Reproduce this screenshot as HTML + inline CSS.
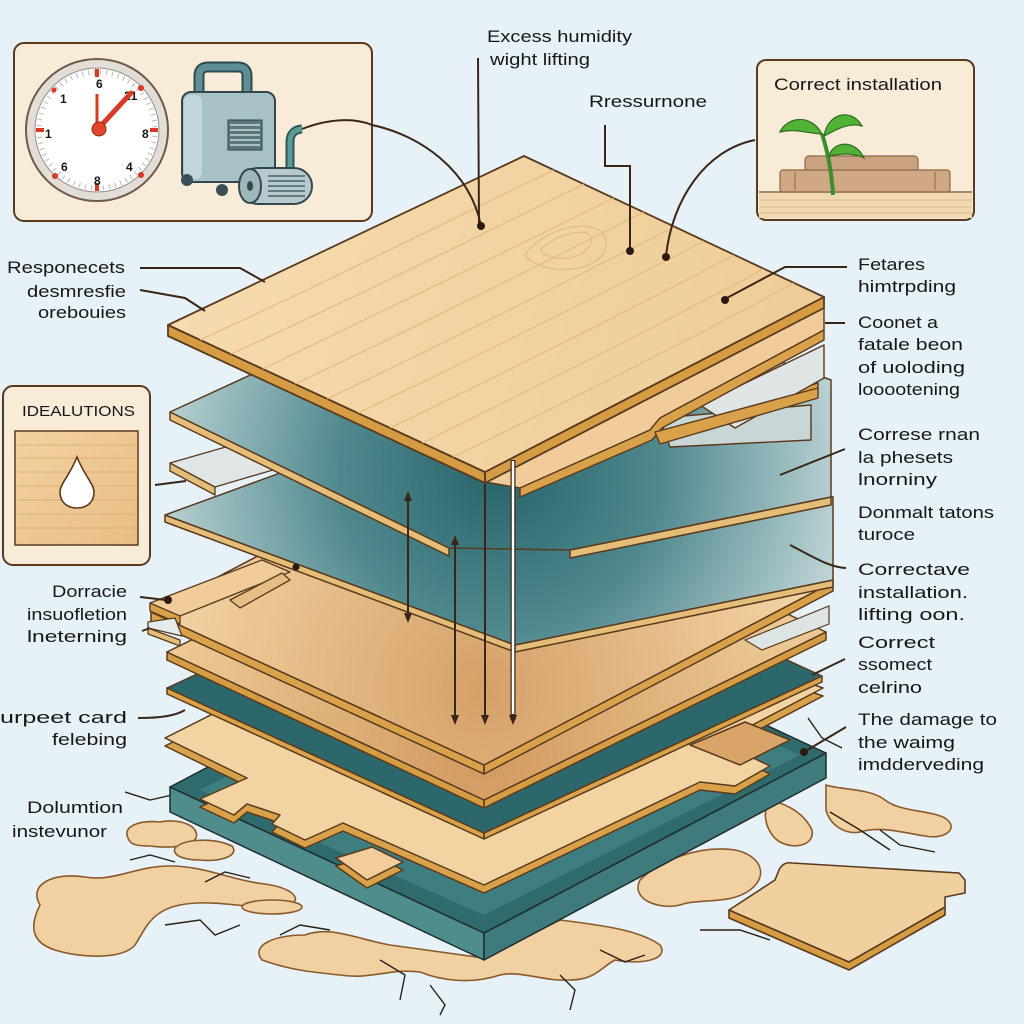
<!DOCTYPE html>
<html><head><meta charset="utf-8"><style>
html,body{margin:0;padding:0;background:#e6f2f7;}
svg{display:block;}
text{font-family:"Liberation Sans",Arial,sans-serif;fill:#171717;font-size:17px;}
</style></head><body>
<svg width="1024" height="1024" viewBox="0 0 1024 1024" xmlns="http://www.w3.org/2000/svg">
<defs>
 <radialGradient id="glass" gradientUnits="userSpaceOnUse" cx="500" cy="470" r="360">
  <stop offset="0" stop-color="#27646a"/>
  <stop offset="0.45" stop-color="#4f898e"/>
  <stop offset="1" stop-color="#c6d9db"/>
 </radialGradient>
 <linearGradient id="topwood" gradientUnits="userSpaceOnUse" x1="168" y1="200" x2="824" y2="420">
  <stop offset="0" stop-color="#f6dcb0"/>
  <stop offset="0.5" stop-color="#f2d4a2"/>
  <stop offset="1" stop-color="#eecb95"/>
 </linearGradient>
 <radialGradient id="wood2" gradientUnits="userSpaceOnUse" cx="484" cy="690" r="340">
  <stop offset="0" stop-color="#d6a068"/>
  <stop offset="1" stop-color="#f3d5a5"/>
 </radialGradient>
 <radialGradient id="wood3" gradientUnits="userSpaceOnUse" cx="484" cy="760" r="330">
  <stop offset="0" stop-color="#d29a62"/>
  <stop offset="1" stop-color="#ecc994"/>
 </radialGradient>
 <linearGradient id="boxwood" x1="0" y1="0" x2="1" y2="1">
  <stop offset="0" stop-color="#f2d2a0"/>
  <stop offset="1" stop-color="#e8bd84"/>
 </linearGradient>
 <marker id="ah" markerWidth="10" markerHeight="10" refX="5" refY="5" orient="auto-start-reverse" markerUnits="userSpaceOnUse">
  <path d="M0,1 L10,5 L0,9 Z" fill="#3a2618"/>
 </marker>
</defs>

<rect width="1024" height="1024" fill="#e6f2f7"/>

<!-- ===== spills ===== -->
<g fill="#f1d1a2" stroke="#8b5a2b" stroke-width="1.6">
 <path d="M40,905 C28,885 52,872 85,877 C115,882 135,866 170,866 C205,866 230,880 265,884 C295,888 305,902 285,906 C255,911 215,898 180,905 C150,911 145,930 135,945 C122,960 80,958 55,950 C30,942 30,925 40,905 Z"/>
 <ellipse cx="272" cy="907" rx="30" ry="7"/>
 <path d="M128,838 C122,826 140,820 160,822 C180,818 200,826 196,838 C190,848 165,848 150,846 C138,846 130,845 128,838 Z"/>
 <path d="M175,848 C185,838 215,838 232,846 C240,856 220,862 200,860 C185,860 172,856 175,848 Z"/>
 <path d="M262,960 C250,945 275,935 305,935 C330,925 360,940 390,945 L484,958 L560,920 C600,925 640,930 660,945 C670,960 640,965 615,960 C600,968 595,980 570,980 C545,982 520,970 500,975 C470,985 440,980 420,972 C390,968 370,980 340,975 C310,972 290,970 262,960 Z"/>
 <path d="M640,880 C660,860 700,845 735,850 C760,855 770,875 750,890 C730,905 700,898 680,905 C660,910 630,900 640,880 Z"/>
 <path d="M826,785 C840,790 870,788 885,800 C900,812 930,810 945,818 C960,828 945,840 925,836 C900,832 880,826 860,832 C845,835 830,825 826,810 Z"/>
 <path d="M770,800 C790,805 805,815 812,830 C815,845 795,850 780,842 C768,835 760,815 770,800 Z"/>
</g>
<g fill="none" stroke="#2a2018" stroke-width="1.4">
 <polyline points="125,792 150,800 172,795"/>
 <polyline points="130,860 150,855 175,862"/>
 <polyline points="165,925 200,920 215,935 240,925"/>
 <polyline points="205,882 225,872 250,878"/>
 <polyline points="280,935 300,925 330,930"/>
 <polyline points="380,960 405,975 400,1000"/>
 <polyline points="430,985 445,1005 440,1015"/>
 <polyline points="600,950 625,962 645,955"/>
 <polyline points="700,930 740,930 770,940"/>
 <polyline points="755,905 800,912"/>
 <polyline points="830,812 860,830 890,850"/>
 <polyline points="808,718 822,738 842,748"/>
 <polyline points="880,830 900,845 935,852"/>
 <polyline points="560,975 575,990 570,1010"/>
</g>

<!-- ===== base slab ===== -->
<g stroke="#1f2d2d" stroke-width="1.5" stroke-linejoin="round">
 <polygon points="170,787 484,933 484,960 170,812" fill="#4f8d8c"/>
 <polygon points="484,933 826,753 826,778 484,960" fill="#3f7b7d"/>
 <polygon points="170,787 512,607 826,753 484,933" fill="#2f6b6d"/>
 <polygon points="200,790 512,630 800,755 484,915" fill="#3f7e80" stroke="none"/>
</g>

<!-- ===== jigsaw wood ===== -->
<g stroke="#5a3a1e" stroke-width="1.5" stroke-linejoin="round">
 <path transform="translate(0,8)" d="M165,738 L493,573 L823,688 L720,742 L770,766 L735,786 L700,782 L484,885 L343,823 L305,840 L272,824 L280,815 L247,804 L234,815 L200,799 L247,778 Z" fill="#d9a24a"/>
 <path d="M165,738 L493,573 L823,688 L720,742 L770,766 L735,786 L700,782 L484,885 L343,823 L305,840 L272,824 L280,815 L247,804 L234,815 L200,799 L247,778 Z" fill="#f2d3a2"/>
 <polygon points="690,745 745,722 790,740 740,765" fill="#d9a468"/>
 <polygon points="336,866 372,855 403,870 367,888" fill="#d9a24a"/>
 <polygon points="336,858 372,847 403,862 367,880" fill="#f0cd9b"/>
</g>

<!-- ===== teal dark layer ===== -->
<g stroke="#5a3a1e" stroke-width="1.5" stroke-linejoin="round">
 <polygon points="167,688 484,833 484,839 167,694" fill="#d9a24a"/>
 <polygon points="484,833 822,676 822,682 484,839" fill="#d9a24a"/>
 <polygon points="167,688 505,531 822,676 484,833" fill="#2c686b"/>
</g>

<!-- ===== brown wood layer ===== -->
<g stroke="#5a3a1e" stroke-width="1.5" stroke-linejoin="round">
 <polygon points="167,652 484,800 484,808 167,660" fill="#d69c44"/>
 <polygon points="484,800 826,632 826,640 484,808" fill="#d69c44"/>
 <polygon points="167,652 509,484 826,632 484,800" fill="url(#wood3)"/>
</g>
<polygon points="745,640 829,606 829,624 762,650" fill="#dde4e4" stroke="#5a3a1e" stroke-width="1.2"/>

<!-- ===== wood under glass ===== -->
<g stroke="#5a3a1e" stroke-width="1.5" stroke-linejoin="round">
 <polygon points="151,612 484,765 484,774 151,621" fill="#d9a24a"/>
 <polygon points="484,765 833,582 833,591 484,774" fill="#d9a24a"/>
 <polygon points="151,612 500,429 833,582 484,765" fill="url(#wood2)"/>
</g>

<!-- ===== glass 2 ===== -->
<g stroke="#5a3a1e" stroke-width="1.5" stroke-linejoin="round">
 <polygon points="165,515 515,645 515,652 165,522" fill="#e4bd78"/>
 <polygon points="515,645 833,580 833,587 515,652" fill="#e4bd78"/>
 <polygon points="165,515 480,400 833,497 833,580 515,645" fill="url(#glass)"/>
</g>

<!-- small grey strip left -->
<g stroke="#5a3a1e" stroke-width="1.3" stroke-linejoin="round">
 <polygon points="170,463 215,487 215,495 170,471" fill="#e3bd7a"/>
 <polygon points="170,463 250,440 300,462 215,487" fill="#e0e6e6"/>
</g>

<!-- raised wood piece left (over glass2) -->
<g stroke="#5a3a1e" stroke-width="1.3" stroke-linejoin="round">
 <polygon points="150,603 262,560 290,572 180,616 150,610" fill="#efcc98"/>
 <polygon points="150,603 180,616 180,624 150,611" fill="#d9a24a"/>
 <polygon points="230,600 282,573 290,580 240,608" fill="#e6bd85"/>
 <polygon points="148,628 180,640 180,646 148,634" fill="#e3bd7a"/>
 <polygon points="148,622 175,618 182,636 148,628" fill="#e6ebeb"/>
</g>

<!-- ===== glass 1 ===== -->
<g stroke="#5a3a1e" stroke-width="1.5" stroke-linejoin="round">
 <polygon points="170,412 449,548 449,556 170,420" fill="#e4bd78"/>
 <polygon points="570,550 831,497 831,505 570,558" fill="#e4bd78"/>
 <polygon points="170,412 500,260 831,380 831,497 570,550 449,548" fill="url(#glass)"/>
</g>

<!-- ===== right strips under top board ===== -->
<g stroke="#5a3a1e" stroke-width="1.4" stroke-linejoin="round">
 <polygon points="655,432 818,383 818,393 660,442" fill="#d9a24a"/>
 <polygon points="660,418 811,405 811,440 670,447" fill="#c9d6d6"/>
 <polygon points="700,405 824,345 824,378 735,428" fill="#dfe5e4"/>
 <polygon points="485,482 824,307 824,330 660,418 650,430 520,488" fill="#efcc99"/>
 <polygon points="520,488 650,430 660,418 824,330 824,340 662,428 652,440 520,497" fill="#d9a24a"/>
 <polygon points="655,432 818,388 818,398 660,444" fill="#d9a24a"/>
</g>

<!-- ===== top board ===== -->
<g stroke="#5a3a1e" stroke-width="1.8" stroke-linejoin="round">
 <polygon points="168,325 485,472 485,483 168,336" fill="#d69c44"/>
 <polygon points="485,472 824,297 824,308 485,483" fill="#d69c44"/>
 <polygon points="168,325 524,156 824,297 485,472" fill="url(#topwood)"/>
</g>
<g fill="none" stroke="#e2b983" stroke-width="1.5" opacity="0.8">
 <path d="M200,340 C320,285 440,225 554,170"/>
 <path d="M231,354 C350,300 470,240 584,184"/>
 <path d="M263,369 C380,312 500,255 614,198"/>
 <path d="M295,384 C410,330 530,270 644,212"/>
 <path d="M327,399 C440,345 560,285 674,227"/>
 <path d="M358,413 C470,360 590,300 704,241"/>
 <path d="M390,428 C500,375 620,315 734,255"/>
 <path d="M422,443 C530,390 650,330 764,269"/>
 <path d="M453,457 C560,405 680,345 794,283"/>
 <path d="M540,250 C560,230 600,225 590,245 C580,262 550,262 540,250"/>
 <path d="M525,255 C550,220 615,215 605,250 C595,275 540,275 525,255"/>
</g>

<!-- ===== arrows ===== -->
<g stroke="#3a2618" stroke-width="2" fill="none">
 <line x1="408" y1="496" x2="408" y2="618" marker-start="url(#ah)" marker-end="url(#ah)"/>
 <line x1="455" y1="540" x2="455" y2="720" marker-start="url(#ah)" marker-end="url(#ah)"/>
 <line x1="485" y1="484" x2="485" y2="720" marker-end="url(#ah)"/>
 <line x1="513" y1="460" x2="513" y2="720" stroke-width="5" marker-end="url(#ah)"/>
</g>
<line x1="513" y1="461" x2="513" y2="714" stroke="#ffffff" stroke-width="2.5"/>

<!-- ===== loose plank bottom right ===== -->
<g stroke="#5a3a1e" stroke-width="1.6" stroke-linejoin="round">
 <polygon points="729,910 849,962 945,907 945,915 849,970 729,918" fill="#d69c44"/>
 <path d="M729,910 L775,880 L779,870 C782,864 786,862 792,863 L959,873 L965,880 L965,893 L945,897 L945,907 L849,962 Z" fill="#f0d09e"/>
</g>

<!-- ===== top-left box ===== -->
<rect x="14" y="43" width="358" height="178" rx="10" fill="#f8ecd9" stroke="#5a3a1e" stroke-width="2"/>
<circle cx="97" cy="130" r="71" fill="#e2ddd6" stroke="#6d5a4a" stroke-width="2"/>
<circle cx="97" cy="130" r="62" fill="#ffffff" stroke="#9c9088" stroke-width="1"/>
<circle cx="97" cy="130" r="58" fill="none" stroke="#c9c2bc" stroke-width="5" stroke-dasharray="1.2 4.8"/>
<g fill="#d83a24">
 <rect x="95" y="69" width="4" height="8"/><rect x="95" y="183" width="4" height="8"/>
 <rect x="36" y="128" width="8" height="4"/><rect x="150" y="128" width="8" height="4"/>
 <circle cx="141" cy="88" r="3"/><circle cx="55" cy="176" r="3"/><circle cx="141" cy="175" r="3"/><circle cx="54" cy="90" r="2.5"/>
</g>
<g font-weight="bold">
 <text x="96" y="88" style="font-size:12px">6</text>
 <text x="60" y="103" style="font-size:12px">1</text>
 <text x="124" y="100" style="font-size:12px">21</text>
 <text x="45" y="138" style="font-size:12px">1</text>
 <text x="142" y="138" style="font-size:12px">8</text>
 <text x="61" y="171" style="font-size:12px">6</text>
 <text x="126" y="171" style="font-size:12px">4</text>
 <text x="94" y="185" style="font-size:12px">8</text>
</g>
<line x1="97" y1="130" x2="97" y2="94" stroke="#d83a24" stroke-width="3"/>
<line x1="97" y1="130" x2="131" y2="93" stroke="#d83a24" stroke-width="5" stroke-linecap="round"/>
<circle cx="99" cy="129" r="7" fill="#e2452a" stroke="#8a2a18" stroke-width="1"/>

<!-- dehumidifier -->
<path d="M199,95 V76 Q199,67 208,67 H238 Q247,67 247,76 V95" fill="none" stroke="#2e4a50" stroke-width="11"/>
<path d="M199,95 V76 Q199,67 208,67 H238 Q247,67 247,76 V95" fill="none" stroke="#5e8f97" stroke-width="7"/>
<rect x="182" y="92" width="93" height="90" rx="9" fill="#a7c1c8" stroke="#34474c" stroke-width="2"/>
<rect x="184" y="95" width="18" height="84" rx="6" fill="#c3d6da"/>
<rect x="228" y="120" width="34" height="30" fill="#5b767c" stroke="#34474c" stroke-width="1"/>
<g stroke="#c7d7da" stroke-width="1.5">
 <line x1="230" y1="125" x2="260" y2="125"/><line x1="230" y1="130" x2="260" y2="130"/><line x1="230" y1="135" x2="260" y2="135"/><line x1="230" y1="140" x2="260" y2="140"/><line x1="230" y1="145" x2="260" y2="145"/>
</g>
<circle cx="187" cy="180" r="6" fill="#3a4f55"/>
<circle cx="222" cy="190" r="6" fill="#3a4f55"/>
<path d="M290,170 V142 Q290,130 302,129" fill="none" stroke="#2f5557" stroke-width="9"/>
<path d="M290,170 V142 Q290,130 302,129" fill="none" stroke="#5a9b97" stroke-width="5"/>
<rect x="240" y="168" width="72" height="36" rx="18" fill="#b6cace" stroke="#34474c" stroke-width="2"/>
<ellipse cx="250" cy="186" rx="11" ry="17" fill="#9fb6bb" stroke="#34474c" stroke-width="2"/>
<ellipse cx="250" cy="186" rx="3" ry="5" fill="#34474c"/>
<g stroke="#4a5f64" stroke-width="1.5">
 <line x1="268" y1="176" x2="305" y2="176"/><line x1="268" y1="181" x2="305" y2="181"/><line x1="268" y1="186" x2="305" y2="186"/><line x1="268" y1="191" x2="305" y2="191"/><line x1="268" y1="196" x2="305" y2="196"/>
</g>

<!-- ===== top-right box ===== -->
<rect x="757" y="60" width="217" height="160" rx="9" fill="#f8ecd9" stroke="#5a3a1e" stroke-width="2"/>
<rect x="759" y="193" width="213" height="25" fill="#f1d9b3"/>
<g stroke="#e2c08e" stroke-width="1.2"><line x1="760" y1="200" x2="972" y2="200"/><line x1="760" y1="207" x2="972" y2="207"/><line x1="760" y1="213" x2="972" y2="213"/></g>
<line x1="759" y1="192" x2="972" y2="192" stroke="#8a6845" stroke-width="1.5"/>
<rect x="805" y="156" width="113" height="18" rx="4" fill="#c9a27f" stroke="#8a6845" stroke-width="1.2"/>
<rect x="780" y="170" width="170" height="22" rx="3" fill="#cfa985" stroke="#8a6845" stroke-width="1.2"/>
<line x1="795" y1="172" x2="795" y2="190" stroke="#8a6845" stroke-width="1"/>
<line x1="935" y1="172" x2="935" y2="190" stroke="#8a6845" stroke-width="1"/>
<path d="M833,195 C832,175 828,152 822,134" fill="none" stroke="#3a8f2a" stroke-width="4"/>
<g fill="#52b236" stroke="#2d6b1e" stroke-width="1.2">
 <path d="M822,134 C810,112 786,118 780,132 C795,128 810,134 822,134 Z"/>
 <path d="M824,136 C828,112 852,108 862,126 C848,122 836,130 824,136 Z"/>
 <path d="M829,156 C834,140 856,140 864,158 C852,152 840,154 829,156 Z"/>
</g>

<!-- ===== left box ===== -->
<rect x="3" y="386" width="147" height="179" rx="10" fill="#f8ecd9" stroke="#5a3a1e" stroke-width="2"/>
<rect x="15" y="431" width="123" height="114" fill="url(#boxwood)" stroke="#5a3a1e" stroke-width="1.5"/>
<g stroke="#dcab72" stroke-width="1" opacity="0.8">
 <line x1="17" y1="445" x2="136" y2="445"/><line x1="17" y1="458" x2="136" y2="458"/><line x1="17" y1="472" x2="136" y2="472"/><line x1="17" y1="486" x2="136" y2="486"/><line x1="17" y1="500" x2="136" y2="500"/><line x1="17" y1="514" x2="136" y2="514"/><line x1="17" y1="528" x2="136" y2="528"/>
</g>
<path d="M77,457 C70,475 60,484 60,492 C60,503 68,508 77,508 C86,508 94,503 94,492 C94,484 84,475 77,457 Z" fill="#ffffff" stroke="#5a3a1e" stroke-width="1.6"/>

<!-- ===== connectors ===== -->
<g fill="none" stroke="#3a2618" stroke-width="2">
 <path d="M302,129 C330,118 355,118 372,125 C420,135 470,170 481,226"/>
 <line x1="478" y1="58" x2="479" y2="224"/>
 <polyline points="605,125 605,166 630,166 630,250"/>
 <path d="M755,140 C705,150 672,200 666,256"/>
 <polyline points="847,267 785,267 725,299"/>
 <line x1="825" y1="323" x2="845" y2="323"/>
 <polyline points="140,268 240,268 265,282"/>
 <polyline points="140,290 185,298 205,311"/>
 <line x1="845" y1="449" x2="780" y2="475"/>
 <path d="M846,568 C830,568 810,555 790,545"/>
 <line x1="845" y1="659" x2="812" y2="675"/>
 <line x1="846" y1="727" x2="804" y2="752"/>
 <line x1="155" y1="485" x2="186" y2="481"/>
 <line x1="140" y1="597" x2="166" y2="600"/>
 <line x1="142" y1="631" x2="150" y2="628"/>
 <path d="M138,718 C160,718 175,716 185,710"/>
</g>
<g fill="#2a1a10">
 <circle cx="481" cy="226" r="4"/><circle cx="630" cy="251" r="4"/><circle cx="666" cy="257" r="4"/><circle cx="725" cy="300" r="4"/>
 <circle cx="804" cy="752" r="4"/><circle cx="168" cy="600" r="4"/><circle cx="296" cy="567" r="3.5"/>
</g>

<!-- ===== text ===== -->
<text x="487" y="42" textLength="145" lengthAdjust="spacingAndGlyphs">Excess humidity</text>
<text x="490" y="65" textLength="100" lengthAdjust="spacingAndGlyphs">wight lifting</text>
<text x="589" y="107" textLength="118" lengthAdjust="spacingAndGlyphs">Rressurnone</text>
<text x="774" y="90" textLength="168" lengthAdjust="spacingAndGlyphs">Correct installation</text>

<text x="858" y="270" textLength="67" lengthAdjust="spacingAndGlyphs">Fetares</text>
<text x="858" y="292" textLength="98" lengthAdjust="spacingAndGlyphs">himtrpding</text>
<text x="858" y="328" textLength="80" lengthAdjust="spacingAndGlyphs">Coonet a</text>
<text x="858" y="350" textLength="105" lengthAdjust="spacingAndGlyphs">fatale beon</text>
<text x="858" y="373" textLength="107" lengthAdjust="spacingAndGlyphs">of uoloding</text>
<text x="858" y="395" textLength="102" lengthAdjust="spacingAndGlyphs">looootening</text>
<text x="858" y="440" textLength="122" lengthAdjust="spacingAndGlyphs">Correse rnan</text>
<text x="858" y="463" textLength="95" lengthAdjust="spacingAndGlyphs">la phesets</text>
<text x="858" y="485" textLength="79" lengthAdjust="spacingAndGlyphs">lnorniny</text>
<text x="858" y="518" textLength="136" lengthAdjust="spacingAndGlyphs">Donmalt tatons</text>
<text x="858" y="540" textLength="57" lengthAdjust="spacingAndGlyphs">turoce</text>
<text x="858" y="575" textLength="112" lengthAdjust="spacingAndGlyphs">Correctave</text>
<text x="858" y="598" textLength="110" lengthAdjust="spacingAndGlyphs">installation.</text>
<text x="858" y="620" textLength="107" lengthAdjust="spacingAndGlyphs">lifting oon.</text>
<text x="858" y="648" textLength="77" lengthAdjust="spacingAndGlyphs">Correct</text>
<text x="858" y="670" textLength="74" lengthAdjust="spacingAndGlyphs">ssomect</text>
<text x="858" y="693" textLength="64" lengthAdjust="spacingAndGlyphs">celrino</text>
<text x="858" y="725" textLength="139" lengthAdjust="spacingAndGlyphs">The damage to</text>
<text x="858" y="748" textLength="97" lengthAdjust="spacingAndGlyphs">the waimg</text>
<text x="858" y="770" textLength="126" lengthAdjust="spacingAndGlyphs">imdderveding</text>

<text x="7" y="273" textLength="118" lengthAdjust="spacingAndGlyphs">Responecets</text>
<text x="27" y="297" textLength="99" lengthAdjust="spacingAndGlyphs">desmresfie</text>
<text x="38" y="318" textLength="88" lengthAdjust="spacingAndGlyphs">orebouies</text>
<text x="22" y="416" textLength="113" lengthAdjust="spacingAndGlyphs" style="font-size:15px">IDEALUTIONS</text>
<text x="52" y="597" textLength="75" lengthAdjust="spacingAndGlyphs">Dorracie</text>
<text x="27" y="620" textLength="100" lengthAdjust="spacingAndGlyphs">insuofletion</text>
<text x="27" y="642" textLength="100" lengthAdjust="spacingAndGlyphs">lneterning</text>
<text x="0" y="723" textLength="127" lengthAdjust="spacingAndGlyphs">urpeet card</text>
<text x="52" y="745" textLength="75" lengthAdjust="spacingAndGlyphs">felebing</text>
<text x="27" y="813" textLength="96" lengthAdjust="spacingAndGlyphs">Dolumtion</text>
<text x="12" y="837" textLength="95" lengthAdjust="spacingAndGlyphs">instevunor</text>
</svg>
</body></html>
